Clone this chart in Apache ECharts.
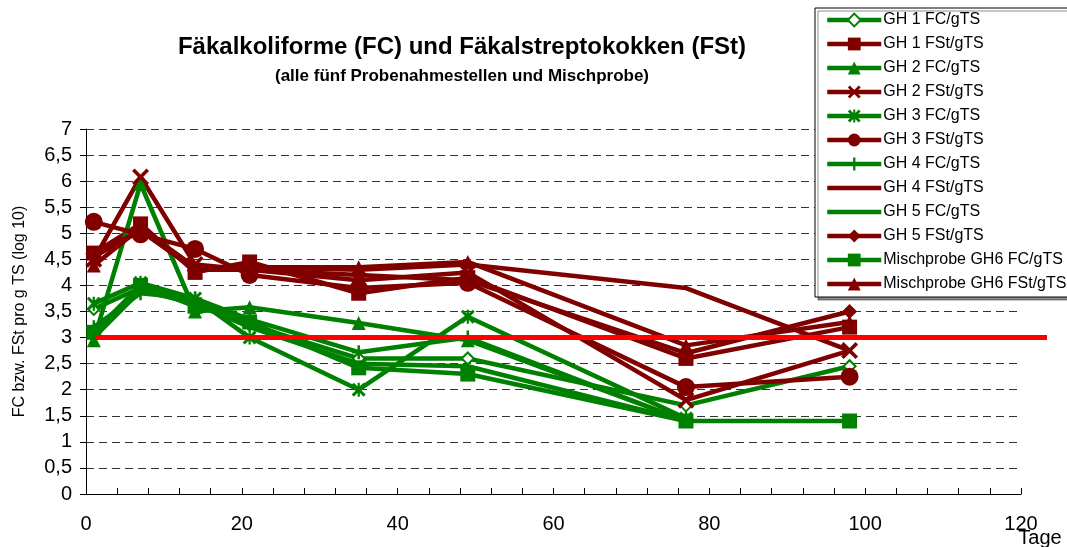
<!DOCTYPE html>
<html>
<head>
<meta charset="utf-8">
<script src="https://cdn.jsdelivr.net/npm/echarts@6/dist/echarts.min.js"></script>
<style>html,body{margin:0;padding:0;background:#fff}#c{width:1067px;height:547px}</style>
</head>
<body>
<div id="c"></div>
<script>
const days = [1, 7, 14, 21, 35, 49, 77, 98];
const seriesNames = ['GH 1 FC/gTS','GH 1 FSt/gTS','GH 2 FC/gTS','GH 2 FSt/gTS','GH 3 FC/gTS','GH 3 FSt/gTS','GH 4 FC/gTS','GH 4 FSt/gTS','GH 5 FC/gTS','GH 5 FSt/gTS','Mischprobe GH6 FC/gTS','Mischprobe GH6 FSt/gTS'];
const gh1FC  = [3.55, 3.95, 3.70, 3.25, 2.60, 2.60, 1.70, 2.45];
const gh1FSt = [4.62, 5.18, 4.25, 4.45, 3.85, 4.15, 2.60, 3.20];
const gh2FC  = [2.95, 5.95, 3.50, 3.58, 3.28, 2.95, 1.40, null];
const gh2FSt = [4.50, 6.08, 4.40, 4.30, 4.10, 4.25, 1.80, 2.75];
const gh3FC  = [3.65, 4.05, 3.75, 3.00, 2.00, 3.40, 1.45, null];
const gh3FSt = [5.22, 4.98, 4.70, 4.20, 3.95, 4.05, 2.05, 2.25];
const gh4FC  = [3.20, 3.85, 3.75, 3.35, 2.72, 3.00, 1.40, null];
const gh4FSt = [4.60, 5.05, 4.35, 4.35, 4.30, 4.40, 3.95, 2.75];
const gh5FC  = [3.00, 3.90, 3.65, 3.20, 2.50, 2.45, 1.40, null];
const gh5FSt = [4.55, 5.05, 4.30, 4.30, 4.20, 4.10, 2.70, 3.50];
const gh6FC  = [3.10, 4.00, 3.60, 3.30, 2.42, 2.30, 1.40, 1.40];
const gh6FSt = [4.38, 5.10, 4.35, 4.35, 4.35, 4.45, 2.85, 3.30];
const limitX = [1.2, 123.4];
const limitY = [3, 3];
const yTicks = ['0','0,5','1','1,5','2','2,5','3','3,5','4','4,5','5','5,5','6','6,5','7'];

const GREEN = '#008000', RED = '#800000';
const FONT = 'Liberation Sans, Arial, sans-serif';
const X_PATH = 'path://M0,1.5L1.5,0L5,3.5L8.5,0L10,1.5L6.5,5L10,8.5L8.5,10L5,6.5L1.5,10L0,8.5L3.5,5Z';
const AST_PATH = 'path://M0,1.5L1.5,0L5,3.5L8.5,0L10,1.5L6.5,5L10,8.5L8.5,10L5,6.5L1.5,10L0,8.5L3.5,5Z M4.2,0L5.8,0L5.8,10L4.2,10Z';
const PLUS_PATH = 'path://M4.1,0L5.9,0L5.9,4.1L10,4.1L10,5.9L5.9,5.9L5.9,10L4.1,10L4.1,5.9L0,5.9L0,4.1L4.1,4.1Z';

function pts(vals){ return days.map((d,i)=>[d, vals[i]]); }
function mk(name, vals, color, symbol, size, fill){
  return {
    name, type:'line', data: pts(vals), color,
    symbol, symbolSize: size, showSymbol: symbol !== 'none',
    connectNulls: false,
    lineStyle:{color, width:4.5},
    itemStyle: fill ? {color: fill, borderColor: color, borderWidth: 2} : {color, borderWidth:0},
    emphasis:{disabled:true}, animation:false
  };
}
const series = [
  mk(seriesNames[0], gh1FC, GREEN, 'diamond', 12, '#ffffff'),
  mk(seriesNames[1], gh1FSt, RED, 'rect', 15),
  mk(seriesNames[2], gh2FC, GREEN, 'triangle', 14),
  mk(seriesNames[3], gh2FSt, RED, X_PATH, 17),
  mk(seriesNames[4], gh3FC, GREEN, AST_PATH, 14),
  mk(seriesNames[5], gh3FSt, RED, 'circle', 18),
  mk(seriesNames[6], gh4FC, GREEN, PLUS_PATH, 14),
  mk(seriesNames[7], gh4FSt, RED, 'none', 1),
  mk(seriesNames[8], gh5FC, GREEN, 'none', 1),
  mk(seriesNames[9], gh5FSt, RED, 'diamond', 15),
  mk(seriesNames[10], gh6FC, GREEN, 'rect', 15),
  mk(seriesNames[11], gh6FSt, RED, 'triangle', 14),
  {name:'Grenzwert', type:'line', xAxisIndex:1, yAxisIndex:1,
   data: limitX.map((x,i)=>[x, limitY[i]]), symbol:'none', clip:false,
   lineStyle:{color:'#ff0000', width:5}, z:10, animation:false, emphasis:{disabled:true}}
];

const legendData = seriesNames.map((n,i)=> (i===7||i===8) ? {name:n, itemStyle:{opacity:0}} : {name:n});

const chart = echarts.init(document.getElementById('c'), null, {renderer:'canvas'});
chart.setOption({
  animation:false,
  backgroundColor:'#ffffff',
  textStyle:{fontFamily:FONT},
  grid:[
    {left:86, right:46, top:129, bottom:53, containLabel:false, outerBoundsMode:'none'},
    {left:86, right:20, top:129, bottom:53, containLabel:false, outerBoundsMode:'none'}
  ],
  xAxis:[{type:'value', min:0, max:120, interval:20,
    axisLine:{show:true, lineStyle:{color:'#000', width:1}},
    axisTick:{show:true, inside:true, length:6, lineStyle:{color:'#000'}},
    minorTick:{show:true, splitNumber:5, length:6, lineStyle:{color:'#000'}},
    splitLine:{show:false},
    axisLabel:{fontSize:20, color:'#000', margin:20, fontFamily:FONT}
  },{type:'value', gridIndex:1, min:0, max:123.4, show:false}],
  yAxis:[{type:'value', min:0, max:7, interval:0.5,
    name:'FC bzw. FSt pro g TS (log 10)', nameLocation:'middle', nameGap:58, nameRotate:90,
    nameTextStyle:{fontSize:16, color:'#000', fontFamily:FONT},
    axisLine:{show:true, lineStyle:{color:'#000', width:1}},
    axisTick:{show:true, inside:false, length:6, lineStyle:{color:'#000'}},
    splitLine:{show:true, lineStyle:{color:'#333', type:[8,5], width:1}},
    axisLabel:{fontSize:20, color:'#000', margin:14, fontFamily:FONT,
      formatter:(v)=>yTicks[Math.round(v*2)]}
  },{type:'value', gridIndex:1, min:0, max:7, show:false}],
  legend:{orient:'vertical', left:815, top:8, data:legendData, selectedMode:false,
    itemWidth:54, itemHeight:16, itemGap:8,
    padding:[4,5,5,10],
    lineStyle:{width:4.5},
    textStyle:{fontSize:16, color:'#000', fontFamily:FONT, padding:[0,0,0,-3]},
    borderColor:'#000', borderWidth:1, backgroundColor:'#fff',
    shadowColor:'rgba(0,0,0,0.45)', shadowOffsetX:3, shadowOffsetY:3, shadowBlur:0
  },
  graphic:[
    {type:'text', x:462, y:47, style:{text:'Fäkalkoliforme (FC) und Fäkalstreptokokken (FSt)', align:'center', verticalAlign:'middle', fontSize:24, fontWeight:'bold', fontFamily:FONT, fill:'#000'}},
    {type:'text', x:462, y:76, style:{text:'(alle fünf Probenahmestellen und Mischprobe)', align:'center', verticalAlign:'middle', fontSize:17, fontWeight:'bold', fontFamily:FONT, fill:'#000'}},
    {type:'text', x:1040, y:538, style:{text:'Tage', align:'center', verticalAlign:'middle', fontSize:20, fontFamily:FONT, fill:'#000'}}
  ],
  series
});
</script>
</body>
</html>
